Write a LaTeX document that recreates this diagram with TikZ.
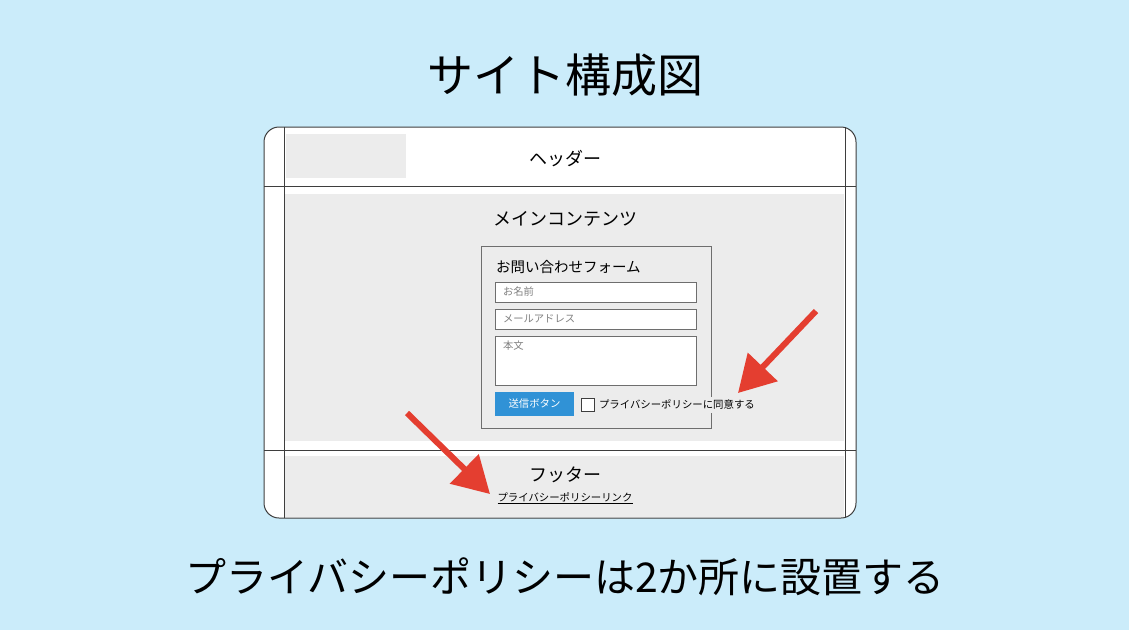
\documentclass[tikz,border=0pt]{standalone}
\usepackage{fontspec}
\setmainfont{Noto Sans CJK JP}
\usetikzlibrary{arrows.meta}
\pgfdeclarelayer{bg}
\pgfsetlayers{bg,main}
\definecolor{skyback}{RGB}{203,236,250}
\definecolor{areagray}{RGB}{236,236,236}
\definecolor{linedark}{RGB}{62,62,62}
\definecolor{boxline}{RGB}{110,110,110}
\definecolor{btnblue}{RGB}{48,146,214}
\definecolor{arrowred}{RGB}{228,62,48}
\tikzset{
    every node/.style={inner sep=0pt, outer sep=0pt},
    frameline/.style={draw=linedark, line width=1pt},
    grayarea/.style={fill=areagray, draw=none},
    inputbox/.style={draw=boxline, fill=white, line width=1pt},
    hint/.style={text=gray, font=\fontsize{10.3}{12}\selectfont, anchor=west},
    small/.style={font=\fontsize{10.4}{12}\selectfont},
    section/.style={font=\fontsize{18}{20}\selectfont},
    bigtext/.style={font=\fontsize{44}{48}\selectfont},
    pointer/.style={draw=arrowred, line width=6pt,
        -{Triangle[length=36pt, width=40pt, fill=arrowred]}}
}

\begin{document}
\begin{tikzpicture}[x=1pt, y=-1pt]
    \useasboundingbox (0,0) rectangle (1129,630);

    \node (title) at (565,75) [bigtext, font=\fontsize{46}{50}\selectfont] {サイト構成図};

    % page frame
    \begin{pgfonlayer}{bg}
        \fill[skyback] (0,0) rectangle (1129,630);
        \fill[white, rounded corners=15pt] (264,127) rectangle (856,518);
        \fill[grayarea] (286,134) rectangle (406,178);
        \fill[grayarea] (285,194) rectangle (844,441);
        \fill[grayarea] (285,456) rectangle (844,517);
    \end{pgfonlayer}
    \draw[frameline, rounded corners=15pt] (264,127) rectangle (856,518);
    \draw[frameline] (284,127) -- (284,518);
    \draw[frameline] (845,127) -- (845,518);
    \draw[frameline] (264,186) -- (856,186);
    \draw[frameline] (264,450) -- (856,450);

    \node (header) at (565,159) [section] {ヘッダー};
    \node (main) at (565,219) [section] {メインコンテンツ};
    \node (footer) at (565,475) [section] {フッター};
    \node (link) at (565,498) [small] {\underline{プライバシーポリシーリンク}};

    % contact form
    \draw[boxline, line width=1pt] (481,246) rectangle (711,428);
    \node (formtitle) at (496,267) [anchor=west, font=\fontsize{14.5}{16}\selectfont] {お問い合わせフォーム};
    \draw[inputbox] (495,282) rectangle (696,302);
    \node (name) at (503,292) [hint] {お名前};
    \draw[inputbox] (495,309) rectangle (696,329);
    \node (mail) at (503,319) [hint] {メールアドレス};
    \draw[inputbox] (495,336) rectangle (696,385);
    \node (body) at (503,346) [hint] {本文};

    \node (send) at (534.5,404) [fill=btnblue, text=white, small,
        minimum width=79pt, minimum height=24pt] {送信ボタン};
    \node (check) at (587.5,404.5) [draw=linedark, fill=white, line width=.8pt,
        minimum size=13pt] {};
    \node (agree) at (598,405) [small, anchor=west, fill=areagray,
        inner ysep=3pt, inner xsep=1pt] {プライバシーポリシーに同意する};

    \node (bottom) at (565,577) [bigtext, font=\fontsize{41}{46}\selectfont] {プライバシーポリシーは2か所に設置する};

    % arrows
    \coordinate (ta) at (816,311);
    \coordinate (ha) at (738,393);
    \coordinate (tb) at (407,413);
    \coordinate (hb) at (490,494);
    \draw[pointer] (ta) -- (ha);
    \draw[pointer] (tb) -- (hb);
\end{tikzpicture}
\end{document}
